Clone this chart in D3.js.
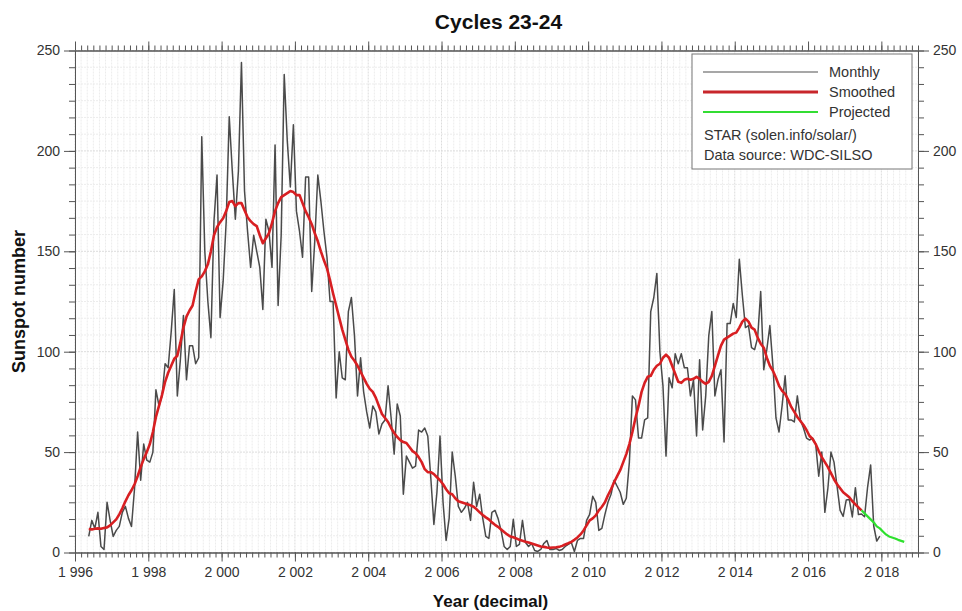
<!DOCTYPE html>
<html>
<head>
<meta charset="utf-8">
<script src="https://cdn.jsdelivr.net/npm/d3@7"></script>
<style>
  html, body { margin: 0; padding: 0; background: #fff; }
  svg { display: block; font-family: Arial, "Liberation Sans", sans-serif; }
</style>
</head>
<body>
<svg id="chart" width="962" height="611"></svg>
<script>
// Monthly mean total sunspot number (SILSO v2), first value = May 1996
const monthlyStart = [1996, 5];
const monthly = [
  8, 16, 12, 20, 3, 1.5, 25, 16,
  8, 11, 13, 20, 23, 17, 13, 32, 60, 36, 54, 46,
  45, 50, 81, 73, 78, 94, 92, 110, 131, 78, 96, 118,
  86, 103, 103, 94, 97, 207, 150, 125, 107, 165, 188, 117,
  135, 165, 217, 190, 166, 190, 244, 180, 160, 142, 158, 150,
  142, 121, 166, 160, 142, 203, 123, 158, 238, 205, 182, 213,
  170, 160, 147, 187, 187, 130, 155, 188, 175, 160, 147, 125,
  125, 77, 100, 87, 86, 120, 127, 108, 78, 97, 80, 70,
  62, 73, 70, 59, 64, 66, 83, 67, 49, 74, 68, 29,
  48, 45, 42, 43, 61, 60, 62, 58, 37, 14, 30, 58,
  25, 6, 17, 50, 38, 23, 20, 22, 25, 16, 35, 23,
  29, 17, 8, 7, 20, 21, 17, 11, 3, 1.5, 3, 16.5,
  3, 4, 16, 5, 3, 4.5, 1, 0.5, 1.5, 4.5, 6, 1.5,
  1.5, 2, 1, 1.5, 3, 4, 5, 0.5, 6, 7, 7, 16,
  19, 28, 25, 11, 12, 19, 25, 29, 36, 33, 30, 24,
  27, 45, 78, 76, 57, 57, 66, 67, 120, 127, 139, 100,
  83, 48, 87, 82, 99, 94, 99, 92, 92, 78, 86, 58,
  96, 61, 78, 108, 120, 78, 86, 91, 55, 114, 114, 124,
  117, 146, 128, 112, 113, 102, 101, 107, 130, 91, 101, 113,
  93, 67, 60, 73, 88, 66, 66, 65, 78, 66, 62, 57,
  56, 57, 54, 38, 50, 20, 32, 50, 45, 33, 21, 18,
  26.1, 26.4, 17.7, 32.3, 18.9, 19.2, 17.8, 32.6, 43.6, 13.2, 5.7, 8.2
];

// 13-month smoothed sunspot number, first value = May 1996
const smoothedStart = [1996, 5];
const smoothed = [
  11.7, 11.5, 11.8, 12.0, 11.8, 12.2, 12.5, 13.5,
  15.0, 16.5, 19.0, 22.0, 25.5, 28.5, 31.0, 34.0, 38.0, 42.5, 46.5, 50.0,
  54.0, 60.0, 67.5, 73.0, 78.5, 85.0, 89.5, 93.0, 96.5, 98.0, 104.5, 112.0,
  117.5, 120.5, 123.0, 130.0, 136.0, 137.5, 140.0, 143.5, 150.0, 158.0, 162.0, 164.5,
  166.5, 170.0, 174.5, 175.0, 172.5, 174.0, 174.0, 170.5, 167.0, 165.0, 163.5, 162.5,
  158.0, 154.0, 156.5, 159.0, 164.0, 170.0, 174.0, 177.0, 178.0, 179.0, 180.0, 179.5,
  178.0, 178.0, 174.0, 170.0, 167.0, 163.5, 159.0, 155.0, 150.0, 145.5, 141.5, 135.5,
  129.0, 123.0, 117.0, 111.0, 106.0, 101.0, 97.5, 95.5, 93.0, 90.0, 87.0, 84.0,
  81.5, 80.0, 77.0, 73.0, 69.0, 67.0, 65.0, 62.0, 59.5, 57.5, 56.0, 55.0,
  54.5, 52.5, 50.5, 49.5, 47.5, 45.0, 41.5, 40.0, 40.0, 39.0, 37.5, 36.0,
  34.0, 31.5, 29.5, 29.0, 27.0, 25.5, 25.0, 24.5, 24.0, 23.5, 22.8, 21.5,
  20.0, 18.7, 17.5, 16.5, 15.0, 13.8, 12.8, 11.5, 10.2, 9.0, 8.0, 7.6,
  7.0, 6.3, 5.8, 5.4, 5.0, 4.5, 4.0, 3.5, 3.0, 2.8, 2.5, 2.3,
  2.5, 2.6, 2.8, 3.3, 4.0, 4.6, 5.3, 6.3, 7.5, 9.0, 11.0, 13.5,
  16.0, 17.0, 18.5, 21.0, 22.8, 25.0, 28.5, 31.5, 35.0, 38.0, 41.0, 45.0,
  49.0, 54.0, 60.0, 67.0, 73.0, 80.0, 84.5, 87.5, 88.0, 91.0, 93.0, 94.0,
  97.0, 98.5, 97.0, 93.0, 89.0, 85.0, 84.5, 86.0, 86.5, 86.0, 86.5, 87.5,
  86.5, 85.0, 84.0, 85.0, 88.0, 93.0, 98.0, 103.0, 106.0, 107.0, 108.0, 109.0,
  109.5, 112.0, 115.0, 116.5, 115.0, 112.0, 111.0, 107.0, 104.0, 102.0, 97.0, 93.0,
  90.5, 87.0, 83.0, 80.5, 79.0, 76.0, 72.5, 70.0, 67.5, 65.5, 63.5, 61.0,
  58.0, 56.5, 54.0, 50.5, 47.5, 45.0, 42.5, 39.5, 36.5, 34.0, 32.0, 30.0,
  28.8, 27.5, 25.5, 24.0, 22.5, 21.0
];

// Projected smoothed values, first value = Jun 2017
const projectedStart = [2017, 6];
const projected = [21.0, 19.5, 18.0, 16.5, 15.0, 13.0, 12.0, 10.5, 9.0, 8.0, 7.5, 7.0, 6.3, 5.8, 5.3];

const yearTicks = [1996, 1998, 2000, 2002, 2004, 2006, 2008, 2010, 2012, 2014, 2016, 2018];
const valueTicks = [0, 50, 100, 150, 200, 250];

const titleText = "Cycles 23-24";
const xTitle = "Year (decimal)";
const yTitle = "Sunspot number";
const legendSeries = ["Monthly", "Smoothed", "Projected"];
const legendNotes = ["STAR (solen.info/solar/)", "Data source: WDC-SILSO"];

// ---- helpers ----
function toSeries(start, values) {
  return values.map((v, i) => {
    const m = start[1] - 1 + i;
    return { t: start[0] + Math.floor(m / 12) + ((m % 12) + 0.5) / 12, v };
  });
}

const plot = { left: 75, right: 918, top: 50.5, bottom: 552.5 };

const x = d3.scaleLinear().domain([1996, 2019]).range([plot.left, plot.right]);
const y = d3.scaleLinear().domain([0, 250]).range([plot.bottom, plot.top]);

const svg = d3.select("#chart");
const fmtYear = d3.formatLocale({ decimal: ",", thousands: " ", grouping: [3], currency: ["", ""] }).format(",");

// minor positions: 12 per two-year step on x, 6 per 50 on y
const xMinor = d3.range(0, 23 * 6 + 1).map(i => 1996 + i / 6);
const yMinor = d3.range(0, 31).map(i => i * 50 / 6);

// ---- grid ----
const grid = svg.append("g").attr("class", "grid");
grid.selectAll("line.vx").data(xMinor).join("line")
  .attr("x1", d => x(d)).attr("x2", d => x(d))
  .attr("y1", plot.top).attr("y2", plot.bottom)
  .attr("stroke", (d, i) => i % 12 === 0 ? "#dcdcdc" : "#ececec")
  .attr("stroke-width", 1)
  .attr("stroke-dasharray", "2,1");
grid.selectAll("line.hy").data(yMinor).join("line")
  .attr("x1", plot.left).attr("x2", plot.right)
  .attr("y1", d => y(d)).attr("y2", d => y(d))
  .attr("stroke", (d, i) => i % 6 === 0 ? "#dcdcdc" : "#ececec")
  .attr("stroke-width", 1)
  .attr("stroke-dasharray", "2,1");

// ---- axes ----
function styleAxis(g) {
  g.selectAll("path.domain").attr("stroke", "#555");
  g.selectAll(".tick line").attr("stroke", "#555");
  g.selectAll(".tick text").attr("fill", "#333").style("font-size", "14px")
    .style("font-family", "Arial, 'Liberation Sans', sans-serif");
}

// bottom
svg.append("g").attr("transform", `translate(0,${plot.bottom})`)
  .call(d3.axisBottom(x).tickValues(xMinor).tickSize(5).tickSizeOuter(0).tickFormat(""))
  .call(styleAxis);
svg.append("g").attr("transform", `translate(0,${plot.bottom})`)
  .call(d3.axisBottom(x).tickValues(yearTicks).tickSize(9).tickSizeOuter(0).tickPadding(6).tickFormat(fmtYear))
  .call(styleAxis);
// top
svg.append("g").attr("transform", `translate(0,${plot.top})`)
  .call(d3.axisTop(x).tickValues(xMinor).tickSize(5).tickSizeOuter(0).tickFormat(""))
  .call(styleAxis);
svg.append("g").attr("transform", `translate(0,${plot.top})`)
  .call(d3.axisTop(x).tickValues(yearTicks).tickSize(9).tickSizeOuter(0).tickFormat(""))
  .call(styleAxis);
// left
svg.append("g").attr("transform", `translate(${plot.left},0)`)
  .call(d3.axisLeft(y).tickValues(yMinor).tickSize(6).tickSizeOuter(0).tickFormat(""))
  .call(styleAxis);
svg.append("g").attr("transform", `translate(${plot.left},0)`)
  .call(d3.axisLeft(y).tickValues(valueTicks).tickSize(11).tickSizeOuter(0).tickPadding(4).tickFormat(d3.format("d")))
  .call(styleAxis);
// right
svg.append("g").attr("transform", `translate(${plot.right},0)`)
  .call(d3.axisRight(y).tickValues(yMinor).tickSize(6).tickSizeOuter(0).tickFormat(""))
  .call(styleAxis);
svg.append("g").attr("transform", `translate(${plot.right},0)`)
  .call(d3.axisRight(y).tickValues(valueTicks).tickSize(11).tickSizeOuter(0).tickPadding(4).tickFormat(d3.format("d")))
  .call(styleAxis);

// ---- series ----
const line = d3.line().x(d => x(d.t)).y(d => y(d.v));

svg.append("path").datum(toSeries(monthlyStart, monthly))
  .attr("d", line).attr("fill", "none")
  .attr("stroke", "#4a4a4a").attr("stroke-width", 1.5).attr("stroke-linejoin", "round");

svg.append("path").datum(toSeries(smoothedStart, smoothed))
  .attr("d", line).attr("fill", "none")
  .attr("stroke", "#d81f22").attr("stroke-width", 2.6).attr("stroke-linejoin", "round");

svg.append("path").datum(toSeries(projectedStart, projected))
  .attr("d", line).attr("fill", "none")
  .attr("stroke", "#2ee02e").attr("stroke-width", 2.2).attr("stroke-linejoin", "round");

// ---- legend ----
const lg = svg.append("g").attr("transform", "translate(692,54)");
lg.append("rect").attr("width", 220).attr("height", 115)
  .attr("fill", "#fff").attr("stroke", "#777").attr("stroke-width", 1);
const legendStyles = [
  { stroke: "#8a8a8a", w: 1.5 },
  { stroke: "#c8262b", w: 3 },
  { stroke: "#33dd33", w: 2 }
];
legendSeries.forEach((name, i) => {
  const yy = 18 + i * 20;
  lg.append("line").attr("x1", 11).attr("x2", 126).attr("y1", yy).attr("y2", yy)
    .attr("stroke", legendStyles[i].stroke).attr("stroke-width", legendStyles[i].w);
  lg.append("text").attr("x", 137).attr("y", yy + 5).text(name)
    .attr("fill", "#333").style("font-size", "14.5px");
});
legendNotes.forEach((t, i) => {
  lg.append("text").attr("x", 12).attr("y", 86 + i * 20).text(t)
    .attr("fill", "#333").style("font-size", "14.5px");
});

// ---- titles ----
svg.append("text").attr("x", (plot.left + plot.right) / 2 + 2).attr("y", 29)
  .attr("text-anchor", "middle").style("font-size", "21px").style("font-weight", "bold")
  .attr("fill", "#111").text(titleText);

svg.append("text").attr("x", (plot.left + plot.right) / 2 - 6).attr("y", 607)
  .attr("text-anchor", "middle").style("font-size", "17px").style("font-weight", "bold")
  .attr("fill", "#111").text(xTitle);

svg.append("text")
  .attr("transform", `translate(25,${(plot.top + plot.bottom) / 2}) rotate(-90)`)
  .attr("text-anchor", "middle").style("font-size", "18px").style("font-weight", "bold")
  .attr("fill", "#111").text(yTitle);
</script>
</body>
</html>
